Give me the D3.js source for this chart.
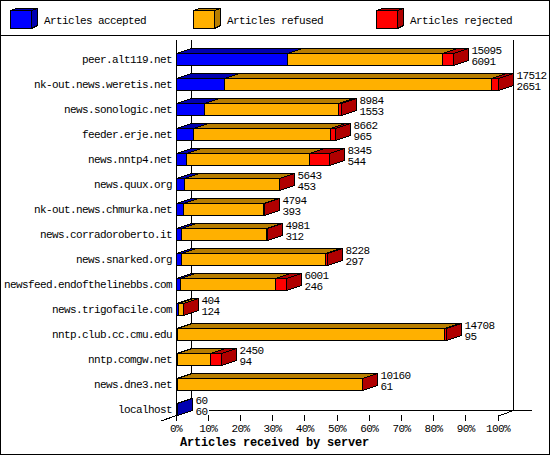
<!DOCTYPE html>
<html><head><meta charset="utf-8">
<script src="https://cdn.jsdelivr.net/npm/d3@7/dist/d3.min.js"></script>
<style>
html,body{margin:0;padding:0;background:#fff}
svg{display:block}
text{font-family:"Liberation Mono",monospace;font-size:11px;letter-spacing:-0.6px;fill:#000}
</style></head><body>
<script>
const hosts=["peer.alt119.net","nk-out.news.weretis.net","news.sonologic.net","feeder.erje.net","news.nntp4.net","news.quux.org","nk-out.news.chmurka.net","news.corradoroberto.it","news.snarked.org","newsfeed.endofthelinebbs.com","news.trigofacile.com","nntp.club.cc.cmu.edu","nntp.comgw.net","news.dne3.net","localhost"];
const totals=[15095,17512,8984,8662,8345,5643,4794,4981,8228,6001,404,14708,2450,10160,60];
const accepted=[6091,2651,1553,965,544,453,393,312,297,246,124,95,94,61,60];
const rejected=[620,380,170,250,1100,15,25,40,90,570,15,130,580,5,0];
const legendLabels=["Articles accepted","Articles refused","Articles rejected"];
const frontColors=["#0000ff","#ffb000","#ff0000"];
const darkColors=["#0000b0","#b87e00","#b00000"];
const percentTicks=d3.range(0,101,10);
const axisTitle="Articles received by server";

const W=550,H=455,DX=15,DY=-5,BAR=12;
const svg=d3.select("body").append("svg").attr("width",W).attr("height",H);
const crisp=s=>s.attr("shape-rendering","crispEdges");
const snap=v=>Math.floor(v)+.5;
const x=d3.scaleLinear().domain([0,100]).range([176,498]);
const xv=d3.scaleLinear().domain([0,d3.max(totals)]).range([176,498]);
const y=d3.scalePoint().domain(hosts).range([59,409]);
const line=(a,b,c,d)=>crisp(svg.append("line").attr("x1",a).attr("y1",b).attr("x2",c).attr("y2",d).attr("stroke","#000"));

crisp(svg.append("rect").attr("x",0.5).attr("y",0.5).attr("width",W-1).attr("height",H-1).attr("fill","#fff").attr("stroke","#000"));
line(0,35.5,W,35.5);

// legend
legendLabels.forEach((t,i)=>{
  const lx=10.5+i*183, g=svg.append("g");
  const poly=(pts,f)=>crisp(g.append("polygon").attr("points",pts.map(p=>p.join(",")).join(" ")).attr("fill",f).attr("stroke","#000"));
  poly([[lx,10.5],[lx+6,8.5],[lx+27,8.5],[lx+21,10.5]],darkColors[i]);
  poly([[lx+21,10.5],[lx+27,8.5],[lx+27,25.5],[lx+21,28.5]],darkColors[i]);
  poly([[lx,10.5],[lx+21,10.5],[lx+21,28.5],[lx,28.5]],frontColors[i]);
  g.append("text").attr("x",lx+33.5).attr("y",23.5).text(t);
});

// axes frame
line(snap(x(0)),40,snap(x(0)),416);
line(snap(x(0))+DX,40,snap(x(0))+DX,411);
line(snap(x(100))+DX,40,snap(x(100))+DX,410.5);
line(snap(x(10)),410.5,532,410.5);
line(161,421,snap(x(0)),415.5);
line(snap(x(100)),416,snap(x(100))+DX,410.5);
percentTicks.forEach(p=>{
  line(snap(x(p)),415,snap(x(p)),421);
  svg.append("text").attr("x",x(p)).attr("y",432).attr("text-anchor","middle").text(p+"%");
});
svg.append("text").attr("x",180).attr("y",445.5).style("font-size","12px").style("letter-spacing","-0.2px").style("font-weight","bold").text(axisTitle);

// bars
hosts.forEach((h,i)=>{
  const g=svg.append("g"), top=y(h)-BAR/2+.5, bot=top+BAR;
  const a=accepted[i], r=rejected[i], t=totals[i];
  const segs=[[0,a,0],[a,t-r,1],[t-r,t,2]].filter(s=>s[1]>s[0]);
  const poly=(pts,f)=>crisp(g.append("polygon").attr("points",pts.map(p=>p.join(",")).join(" ")).attr("fill",f).attr("stroke","#000"));
  segs.forEach(([s,e,c])=>{
    const x0=snap(xv(s)),x1=snap(xv(e));
    poly([[x0,top],[x0+DX,top+DY],[x1+DX,top+DY],[x1,top]],darkColors[c]);
  });
  const last=segs[segs.length-1], xe=snap(xv(t));
  poly([[xe,top],[xe+DX,top+DY],[xe+DX,bot+DY],[xe,bot]],darkColors[last[2]]);
  segs.forEach(([s,e,c])=>{
    const x0=snap(xv(s)),x1=snap(xv(e));
    poly([[x0,top],[x1,top],[x1,bot],[x0,bot]],frontColors[c]);
  });
  svg.append("text").attr("x",172).attr("y",y(h)+3.5).attr("text-anchor","end").text(h);
  svg.append("text").attr("x",xe+DX+3).attr("y",y(h)-5.5).text(t);
  svg.append("text").attr("x",xe+DX+3).attr("y",y(h)+5.5).text(a);
});
</script></body></html>
